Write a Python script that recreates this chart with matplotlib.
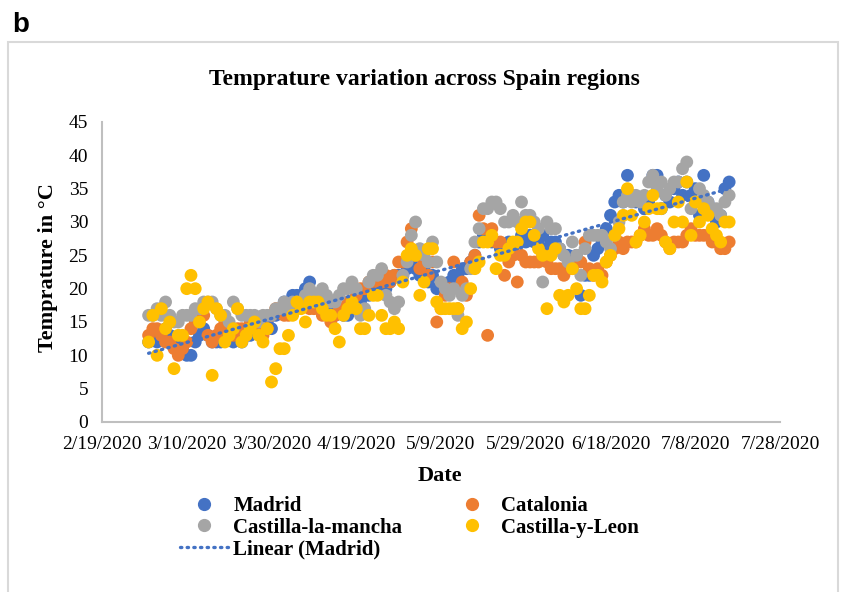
import numpy as np
import pandas as pd
import matplotlib
matplotlib.use("Agg")
import matplotlib.pyplot as plt
import matplotlib.dates as mdates
from matplotlib.patches import Rectangle
from matplotlib.lines import Line2D

# daily temperatures, one value per day from 1 Mar 2020
start_date = "2020-03-01"

madrid = [
    12, 13, 12, 13, 14, 13, 12, 12, 11, 10,
    10, 12, 13, 14, 13, 12, 12, 12, 13, 14,
    12, 13, 12, 13, 13, 14, 14, 15, 15, 14,
    16, 17, 18, 18, 19, 19, 19, 20, 21, 19,
    18, 17, 17, 16, 16, 17, 16, 16, 17, 17,
    18, 19, 19, 20, 20, 21, 20, 21, 22, 22,
    22, 23, 24, 23, 22, 23, 21, 22, 20, 20,
    20, 21, 22, 22, 23, 23, 24, 25, 27, 28,
    28, 27, 27, 26, 26, 27, 26, 27, 28, 27,
    28, 27, 27, 28, 26, 27, 27, 26, 25, 25,
    24, 25, 19, 22, 22, 25, 26, 27, 29, 31,
    33, 34, 33, 37, 34, 33, 33, 32, 33, 37,
    37, 32, 34, 33, 35, 36, 34, 36, 34, 35,
    31, 37, 33, 32, 30, 31, 35, 36,
]
catalonia = [
    13, 14, 14, 13, 12, 12, 11, 10, 11, 12,
    14, 15, 16, 16, 13, 12, 13, 14, 15, 13,
    13, 14, 14, 13, 15, 15, 14, 13, 14, 16,
    17, 17, 16, 16, 17, 17, 18, 18, 17, 17,
    17, 16, 18, 15, 16, 17, 17, 18, 18, 19,
    20, 20, 21, 21, 22, 21, 22, 21, 22, 24,
    24, 27, 29, 25, 23, 24, 22, 24, 15, 17,
    19, 20, 24, 17, 21, 19, 24, 25, 31, 29,
    13, 29, 27, 27, 22, 24, 25, 21, 25, 24,
    24, 24, 24, 25, 24, 23, 23, 23, 22, 23,
    23, 24, 24, 27, 23, 22, 23, 22, 24, 25,
    26, 27, 26, 27, 27, 27, 28, 29, 28, 28,
    29, 28, 27, 26, 27, 27, 27, 28, 29, 28,
    28, 28, 28, 27, 27, 26, 26, 27,
]
castilla_la_mancha = [
    16, 16, 17, 16, 18, 16, 15, 15, 16, 16,
    16, 17, 17, 18, 18, 18, 17, 16, 16, 15,
    18, 17, 16, 16, 16, 16, 15, 16, 16, 16,
    17, 17, 18, 17, 18, 18, 18, 19, 20, 19,
    19, 20, 19, 18, 18, 19, 20, 20, 21, 20,
    16, 17, 21, 22, 22, 23, 19, 18, 17, 18,
    22, 24, 28, 30, 26, 25, 24, 27, 24, 21,
    20, 19, 20, 16, 19, 20, 23, 27, 29, 32,
    32, 33, 33, 32, 30, 30, 31, 30, 33, 31,
    31, 30, 29, 21, 30, 29, 29, 26, 25, 24,
    27, 25, 22, 26, 28, 28, 28, 28, 27, 26,
    28, 30, 33, 34, 33, 34, 33, 34, 36, 37,
    35, 36, 34, 35, 36, 36, 38, 39, 32, 33,
    35, 34, 33, 32, 32, 31, 33, 34,
]
castilla_y_leon = [
    12, 16, 10, 17, 14, 15, 8, 13, 13, 20,
    22, 20, 15, 17, 18, 7, 17, 16, 12, 13,
    14, 17, 12, 13, 14, 15, 13, 12, 14, 6,
    8, 11, 11, 13, 16, 18, 17, 15, 18, 18,
    18, 17, 16, 16, 14, 12, 16, 17, 18, 17,
    14, 14, 16, 19, 19, 16, 14, 14, 15, 14,
    21, 25, 26, 25, 19, 21, 26, 26, 18, 17,
    17, 17, 17, 17, 14, 15, 20, 23, 24, 27,
    27, 28, 23, 25, 25, 26, 27, 27, 29, 30,
    30, 28, 26, 25, 17, 25, 26, 19, 18, 19,
    23, 20, 17, 17, 19, 22, 22, 21, 24, 25,
    28, 29, 31, 35, 31, 27, 28, 30, 32, 34,
    32, 32, 27, 26, 30, 33, 30, 36, 28, 33,
    30, 32, 31, 29, 28, 27, 30, 30,
]

series_names = ["Madrid", "Catalonia", "Castilla-la-mancha", "Castilla-y-Leon"]
series_colors = ["#4472C4", "#ED7D31", "#A5A5A5", "#FFC000"]

tick_dates = pd.date_range("2020-02-19", "2020-07-28", freq="20D")

dates = pd.date_range(start_date, periods=len(madrid), freq="D")

plt.rcParams["font.family"] = ["Liberation Serif", "DejaVu Serif"]

fig = plt.figure(figsize=(8.41, 5.92), dpi=100)
ax = fig.add_axes([102 / 841, 1 - 422 / 592, 678 / 841, 300 / 592])

handles = []
for vals, name, col in zip(
    [madrid, catalonia, castilla_la_mancha, castilla_y_leon], series_names, series_colors
):
    ax.scatter(dates, vals, s=85, color=col, edgecolors="none", zorder=3)
    handles.append(Line2D([], [], marker="o", ls="none", color=col, markersize=8.5, label=name))

# linear trend of Madrid
day_num = mdates.date2num(dates)
coef = np.polyfit(day_num, madrid, 1)
trend = np.polyval(coef, day_num[[0, -1]])
ax.plot(dates[[0, -1]], trend, color="#4472C4", lw=2.4, ls=(0, (0.4, 1.6)),
        dash_capstyle="round", zorder=4)
trend_handle = Line2D([], [], color="#4472C4", lw=2.4, ls=(0, (0.4, 1.6)),
                      dash_capstyle="round", label="Linear (Madrid)")

ax.set_xlim(tick_dates[0], tick_dates[-1])
ax.set_ylim(0, 45)
ax.set_xticks(tick_dates)
ax.set_xticklabels([f"{d.month}/{d.day}/{d.year}" for d in tick_dates])
ax.set_yticks(np.arange(0, 46, 5))
ax.tick_params(length=0, labelsize=14, pad=10)
for s in ["top", "right"]:
    ax.spines[s].set_visible(False)
for s in ["left", "bottom"]:
    ax.spines[s].set_color("#BFBFBF")
    ax.spines[s].set_linewidth(1.5)

fig.text(424 / 841, 1 - 80 / 592, "Temprature variation across Spain regions",
         ha="center", va="center", fontsize=17, fontweight="bold")
fig.text(48 / 841, 1 - 268 / 592, "Temprature in °C", rotation=90,
         ha="center", va="center", fontsize=16, fontweight="bold")
fig.text(440 / 841, 1 - 476 / 592, "Date", ha="center", va="center",
         fontsize=16, fontweight="bold")

fig.text(12 / 841, 1 - 25 / 592, "b", ha="left", va="center", fontsize=20,
         fontweight="bold", family=["Liberation Sans", "DejaVu Sans"])

# outer chart frame
fig.patches.append(Rectangle((8 / 841, -0.02), 830 / 841, 1 - 42 / 592 + 0.02,
                             transform=fig.transFigure, fill=False,
                             edgecolor="#D9D9D9", lw=1.5))

order = [handles[0], handles[2], trend_handle, handles[1], handles[3]]
fig.legend(handles=order, labels=[h.get_label() for h in order], ncol=2,
           loc="upper left", bbox_to_anchor=(180 / 841, 1 - 496 / 592),
           frameon=False, borderpad=0, borderaxespad=0, handlelength=2.3,
           handletextpad=0.25, columnspacing=2.2, labelspacing=0.08,
           prop={"size": 15, "weight": "bold"})

fig.savefig("out.png", dpi=100)
